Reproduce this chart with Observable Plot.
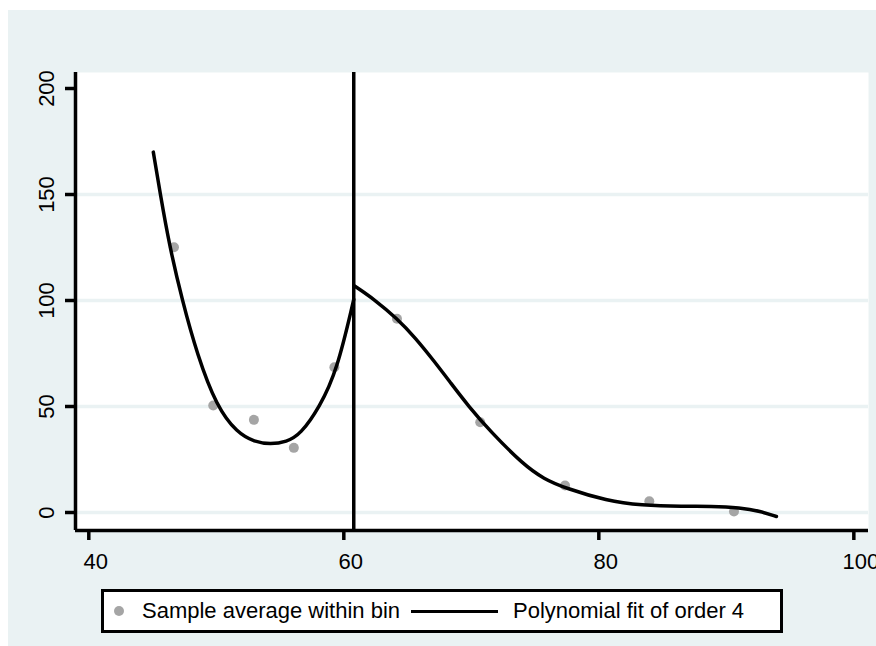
<!DOCTYPE html>
<html>
<head>
<meta charset="utf-8">
<script src="https://cdn.jsdelivr.net/npm/d3@7"></script>
<script src="https://cdn.jsdelivr.net/npm/@observablehq/plot@0.6"></script>
<style>
  body { margin: 0; background: #ffffff; font-family: "Liberation Sans", Arial, sans-serif; }
  #bg { position: absolute; left: 8px; top: 10px; width: 868px; height: 636px; background: #eaf2f3; overflow: hidden; }
  #chart { position: absolute; left: 0; top: 0; }
  #legend { position: absolute; left: 93px; top: 579px; width: 682px; height: 44px; box-sizing: border-box;
            border: 3px solid #000; background: #fff; font-size: 22px; color: #000; }
  #legend .dot { position: absolute; left: 10px; top: 14px; width: 10px; height: 10px; border-radius: 50%; background: #a5a5a5; }
  #legend .t { position: absolute; top: 0; line-height: 38px; white-space: nowrap; }
  #legend .ln { position: absolute; left: 307px; top: 17.5px; width: 87px; height: 3px; background: #000; }
</style>
</head>
<body>
<div id="bg">
  <div id="chart"></div>
  <div id="legend"></div>
</div>
<script>
// Binned sample averages
const binX = [46.68, 49.76, 52.95, 56.08, 59.26, 64.17, 70.7, 77.35, 83.96, 90.6];
const binY = [125.1, 50.5, 43.7, 30.5, 68.5, 91.4, 42.6, 12.7, 5.3, 0.5];

// Polynomial fit (order 4), left of cutoff
const leftFitX = [45.06, 45.6, 46.3, 47.33, 48.5, 50.02, 51.64, 53.0, 54.25, 55.5, 56.6, 58.1, 59.47, 60.78];
const leftFitY = [170, 150.5, 126.5, 100, 74.5, 50, 37.5, 33.3, 32.1, 33.3, 36.8, 49.7, 67, 100.5];

// Polynomial fit (order 4), right of cutoff
const rightFitX = [60.78, 62.4, 64.17, 65.6, 67.07, 68.4, 69.8, 71.5, 74.1, 75.7, 77.37, 80.66, 83.27, 86.67, 88.76, 91.1, 92.67, 93.93];
const rightFitY = [107.1, 100.5, 91.5, 82.5, 71.5, 61, 50, 38.2, 22.5, 15.8, 11.5, 5.5, 3.4, 2.8, 3.0, 2.3, 0.6, -1.9];

const cutoff = 60.78;
const xTicks = [40, 60, 80, 100];
const yTicks = [0, 50, 100, 150, 200];
const gridY = [0, 50, 100, 150];
const xDomain = [38.957, 101.15];
const yDomain = [-8.49, 207.55];
const legendLabels = ["Sample average within bin", "Polynomial fit of order 4"];

const bins = binX.map((x, i) => ({x, y: binY[i]}));
const leftFit = leftFitX.map((x, i) => ({x, y: leftFitY[i]}));
const rightFit = rightFitX.map((x, i) => ({x, y: rightFitY[i]}));

const font = '"Liberation Sans", Arial, sans-serif';

const chart = Plot.plot({
  width: 868,
  height: 570,
  marginLeft: 67,
  marginRight: 8,
  marginTop: 62,
  marginBottom: 50,
  style: { background: "transparent", fontFamily: font, fontSize: "22px", color: "#000", overflow: "visible" },
  x: { domain: xDomain, label: null },
  y: { domain: yDomain, label: null },
  marks: [
    Plot.frame({ fill: "white", stroke: "none" }),
    Plot.ruleY(gridY, { stroke: "#eaf2f3", strokeWidth: 3.5 }),
    Plot.ruleX([cutoff], { stroke: "#000", strokeWidth: 3.5 }),
    Plot.dot(bins, { x: "x", y: "y", r: 5, fill: "#a5a5a5", stroke: "none" }),
    Plot.line(leftFit, { x: "x", y: "y", curve: "basis", stroke: "#000", strokeWidth: 3.5 }),
    Plot.line(rightFit, { x: "x", y: "y", curve: "basis", stroke: "#000", strokeWidth: 3.5 }),
    Plot.ruleX([xDomain[0]], { stroke: "#000", strokeWidth: 3.5 }),
    Plot.ruleY([yDomain[0]], { stroke: "#000", strokeWidth: 3.5 }),
    Plot.axisX(xTicks, { tickSize: 10, strokeWidth: 3.5, tickFormat: () => "", label: null }),
    Plot.axisX(xTicks, { tickSize: 0, tickPadding: 23, dx: 7, fontSize: 22, fontFamily: font, label: null }),
    Plot.axisY(yTicks, { tickSize: 10, strokeWidth: 3.5, tickFormat: () => "", label: null }),
    Plot.axisY(yTicks, { tickSize: 0, tickPadding: 22, tickRotate: -90, fontSize: 22, fontFamily: font, label: null })
  ]
});
document.getElementById("chart").appendChild(chart);

const lg = document.getElementById("legend");
lg.innerHTML =
  '<div class="dot"></div>' +
  '<span class="t" style="left:38px">' + legendLabels[0] + '</span>' +
  '<div class="ln"></div>' +
  '<span class="t" style="left:409px">' + legendLabels[1] + '</span>';
</script>
</body>
</html>
